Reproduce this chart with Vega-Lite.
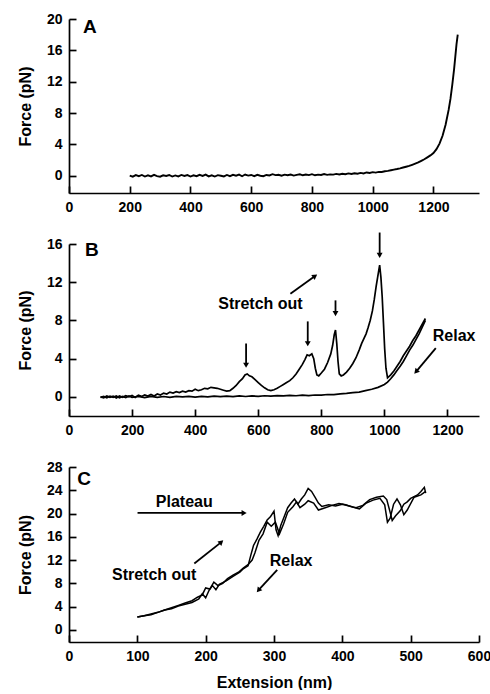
{
  "$schema": "https://vega.github.io/schema/vega-lite/v6.json",
  "background": "white",
  "padding": {"left": 17, "top": 12, "right": 0, "bottom": 0},
  "bounds": "flush",
  "spacing": 51,
  "datasets": {
    "a": [
      {"x":200,"y":0.02},{"x":210,"y":-0.12},{"x":220,"y":0.08},{"x":230,"y":-0.05},{"x":240,"y":0.1},{"x":250,"y":-0.1},{"x":260,"y":0.05},{"x":270,"y":-0.08},{"x":280,"y":0.12},{"x":290,"y":-0.04},
      {"x":300,"y":-0.12},{"x":310,"y":0.06},{"x":320,"y":-0.02},{"x":330,"y":0.1},{"x":340,"y":-0.1},{"x":350,"y":0.04},{"x":360,"y":-0.08},{"x":370,"y":0.1},{"x":380,"y":-0.03},{"x":390,"y":0.08},
      {"x":400,"y":-0.1},{"x":410,"y":0.05},{"x":420,"y":-0.06},{"x":430,"y":0.12},{"x":440,"y":-0.02},{"x":450,"y":0.15},{"x":460,"y":-0.08},{"x":470,"y":0.06},{"x":480,"y":-0.1},{"x":490,"y":0.08},
      {"x":500,"y":0.0},{"x":510,"y":-0.08},{"x":520,"y":0.1},{"x":530,"y":-0.05},{"x":540,"y":0.12},{"x":550,"y":0.0},{"x":560,"y":0.14},{"x":570,"y":-0.06},{"x":580,"y":0.16},{"x":590,"y":0.02},
      {"x":600,"y":0.1},{"x":610,"y":-0.05},{"x":620,"y":0.12},{"x":630,"y":0.0},{"x":640,"y":-0.06},{"x":650,"y":0.1},{"x":660,"y":0.04},{"x":670,"y":0.2},{"x":680,"y":0.08},{"x":690,"y":0.12},
      {"x":700,"y":0.0},{"x":710,"y":0.14},{"x":720,"y":0.06},{"x":730,"y":0.16},{"x":740,"y":0.02},{"x":750,"y":0.12},{"x":760,"y":0.18},{"x":770,"y":0.06},{"x":780,"y":0.15},{"x":790,"y":0.08},
      {"x":800,"y":0.2},{"x":810,"y":0.06},{"x":820,"y":0.14},{"x":830,"y":0.1},{"x":840,"y":0.22},{"x":850,"y":0.12},{"x":860,"y":0.18},{"x":870,"y":0.14},{"x":880,"y":0.24},{"x":890,"y":0.16},
      {"x":900,"y":0.26},{"x":910,"y":0.2},{"x":920,"y":0.3},{"x":930,"y":0.22},{"x":940,"y":0.32},{"x":950,"y":0.26},{"x":960,"y":0.36},{"x":970,"y":0.3},{"x":980,"y":0.42},{"x":990,"y":0.36},
      {"x":1000,"y":0.46},{"x":1010,"y":0.4},{"x":1020,"y":0.5},{"x":1030,"y":0.48},{"x":1040,"y":0.58},{"x":1050,"y":0.62},{"x":1060,"y":0.7},{"x":1070,"y":0.78},{"x":1080,"y":0.86},{"x":1090,"y":0.95},
      {"x":1100,"y":1.05},{"x":1110,"y":1.15},{"x":1120,"y":1.25},{"x":1130,"y":1.4},{"x":1140,"y":1.55},{"x":1150,"y":1.7},{"x":1160,"y":1.9},{"x":1170,"y":2.1},{"x":1180,"y":2.35},{"x":1190,"y":2.6},
      {"x":1200,"y":2.9},{"x":1210,"y":3.4},{"x":1220,"y":4.1},{"x":1230,"y":5.1},{"x":1240,"y":6.5},{"x":1250,"y":8.4},{"x":1256,"y":9.8},{"x":1262,"y":11.6},{"x":1268,"y":13.6},{"x":1272,"y":15.2},{"x":1276,"y":16.8},{"x":1280,"y":18.0}
    ],
    "b": [
      {"s":"stretch","x":100,"y":0.0},{"s":"stretch","x":110,"y":-0.1},{"s":"stretch","x":120,"y":0.1},{"s":"stretch","x":130,"y":-0.05},{"s":"stretch","x":140,"y":0.08},{"s":"stretch","x":150,"y":-0.12},{"s":"stretch","x":160,"y":0.1},{"s":"stretch","x":170,"y":-0.05},{"s":"stretch","x":180,"y":0.12},{"s":"stretch","x":190,"y":0.0},
      {"s":"stretch","x":200,"y":0.15},{"s":"stretch","x":210,"y":-0.05},{"s":"stretch","x":220,"y":0.18},{"s":"stretch","x":230,"y":0.05},{"s":"stretch","x":240,"y":0.2},{"s":"stretch","x":250,"y":0.08},{"s":"stretch","x":260,"y":0.25},{"s":"stretch","x":270,"y":0.1},{"s":"stretch","x":280,"y":0.3},{"s":"stretch","x":290,"y":0.2},
      {"s":"stretch","x":300,"y":0.4},{"s":"stretch","x":310,"y":0.3},{"s":"stretch","x":320,"y":0.5},{"s":"stretch","x":330,"y":0.4},{"s":"stretch","x":340,"y":0.55},{"s":"stretch","x":350,"y":0.45},{"s":"stretch","x":360,"y":0.6},{"s":"stretch","x":370,"y":0.5},{"s":"stretch","x":380,"y":0.65},{"s":"stretch","x":390,"y":0.6},
      {"s":"stretch","x":400,"y":0.8},{"s":"stretch","x":410,"y":0.65},{"s":"stretch","x":420,"y":0.75},{"s":"stretch","x":430,"y":0.9},{"s":"stretch","x":440,"y":0.85},{"s":"stretch","x":450,"y":1.0},{"s":"stretch","x":460,"y":0.95},{"s":"stretch","x":470,"y":0.9},{"s":"stretch","x":480,"y":0.8},{"s":"stretch","x":490,"y":0.7},
      {"s":"stretch","x":500,"y":0.6},{"s":"stretch","x":510,"y":0.65},{"s":"stretch","x":520,"y":0.9},{"s":"stretch","x":530,"y":1.2},{"s":"stretch","x":540,"y":1.6},{"s":"stretch","x":550,"y":1.9},{"s":"stretch","x":558,"y":2.3},{"s":"stretch","x":565,"y":2.4},{"s":"stretch","x":572,"y":2.2},{"s":"stretch","x":580,"y":2.1},
      {"s":"stretch","x":590,"y":1.8},{"s":"stretch","x":600,"y":1.5},{"s":"stretch","x":610,"y":1.2},{"s":"stretch","x":620,"y":0.95},{"s":"stretch","x":630,"y":0.75},{"s":"stretch","x":640,"y":0.65},{"s":"stretch","x":650,"y":0.75},{"s":"stretch","x":660,"y":0.9},{"s":"stretch","x":670,"y":1.1},{"s":"stretch","x":680,"y":1.3},
      {"s":"stretch","x":690,"y":1.5},{"s":"stretch","x":700,"y":1.7},{"s":"stretch","x":710,"y":2.0},{"s":"stretch","x":720,"y":2.4},{"s":"stretch","x":730,"y":2.9},{"s":"stretch","x":740,"y":3.4},{"s":"stretch","x":748,"y":3.9},{"s":"stretch","x":755,"y":4.4},{"s":"stretch","x":762,"y":4.3},{"s":"stretch","x":770,"y":4.5},
      {"s":"stretch","x":776,"y":4.0},{"s":"stretch","x":781,"y":3.0},{"s":"stretch","x":786,"y":2.3},{"s":"stretch","x":792,"y":2.2},{"s":"stretch","x":800,"y":2.5},{"s":"stretch","x":810,"y":2.9},{"s":"stretch","x":820,"y":3.6},{"s":"stretch","x":830,"y":4.5},{"s":"stretch","x":836,"y":5.4},{"s":"stretch","x":841,"y":6.5},
      {"s":"stretch","x":845,"y":7.0},{"s":"stretch","x":849,"y":5.6},{"s":"stretch","x":853,"y":3.7},{"s":"stretch","x":857,"y":2.4},{"s":"stretch","x":863,"y":2.2},{"s":"stretch","x":870,"y":2.3},{"s":"stretch","x":880,"y":2.6},{"s":"stretch","x":890,"y":3.0},{"s":"stretch","x":900,"y":3.5},{"s":"stretch","x":910,"y":4.1},
      {"s":"stretch","x":920,"y":4.9},{"s":"stretch","x":928,"y":5.6},{"s":"stretch","x":935,"y":6.1},{"s":"stretch","x":942,"y":6.6},{"s":"stretch","x":948,"y":7.2},{"s":"stretch","x":955,"y":8.0},{"s":"stretch","x":962,"y":9.0},{"s":"stretch","x":968,"y":10.2},{"s":"stretch","x":974,"y":11.6},{"s":"stretch","x":980,"y":12.8},
      {"s":"stretch","x":985,"y":13.8},{"s":"stretch","x":989,"y":12.5},{"s":"stretch","x":993,"y":10.5},{"s":"stretch","x":997,"y":7.8},{"s":"stretch","x":1001,"y":5.0},{"s":"stretch","x":1005,"y":3.0},{"s":"stretch","x":1010,"y":2.0},{"s":"stretch","x":1020,"y":2.3},{"s":"stretch","x":1030,"y":2.7},{"s":"stretch","x":1040,"y":3.2},
      {"s":"stretch","x":1050,"y":3.7},{"s":"stretch","x":1060,"y":4.3},{"s":"stretch","x":1070,"y":4.8},{"s":"stretch","x":1080,"y":5.3},{"s":"stretch","x":1090,"y":5.9},{"s":"stretch","x":1100,"y":6.4},{"s":"stretch","x":1110,"y":7.0},{"s":"stretch","x":1120,"y":7.6},{"s":"stretch","x":1130,"y":8.2},
      {"s":"relax","x":100,"y":-0.05},{"s":"relax","x":110,"y":0.05},{"s":"relax","x":120,"y":-0.1},{"s":"relax","x":130,"y":0.08},{"s":"relax","x":140,"y":-0.05},{"s":"relax","x":150,"y":0.1},{"s":"relax","x":160,"y":-0.1},{"s":"relax","x":170,"y":0.05},{"s":"relax","x":180,"y":-0.08},{"s":"relax","x":190,"y":0.1},
      {"s":"relax","x":200,"y":-0.05},{"s":"relax","x":220,"y":0.05},{"s":"relax","x":240,"y":-0.08},{"s":"relax","x":260,"y":0.06},{"s":"relax","x":280,"y":-0.05},{"s":"relax","x":300,"y":0.04},{"s":"relax","x":320,"y":-0.04},{"s":"relax","x":340,"y":0.05},{"s":"relax","x":360,"y":0.0},{"s":"relax","x":380,"y":0.06},
      {"s":"relax","x":400,"y":-0.02},{"s":"relax","x":420,"y":0.05},{"s":"relax","x":440,"y":0.0},{"s":"relax","x":460,"y":0.07},{"s":"relax","x":480,"y":0.02},{"s":"relax","x":500,"y":0.08},{"s":"relax","x":520,"y":0.03},{"s":"relax","x":540,"y":0.1},{"s":"relax","x":560,"y":0.04},{"s":"relax","x":580,"y":0.1},
      {"s":"relax","x":600,"y":0.06},{"s":"relax","x":620,"y":0.12},{"s":"relax","x":640,"y":0.08},{"s":"relax","x":660,"y":0.14},{"s":"relax","x":680,"y":0.1},{"s":"relax","x":700,"y":0.16},{"s":"relax","x":720,"y":0.12},{"s":"relax","x":740,"y":0.18},{"s":"relax","x":760,"y":0.14},{"s":"relax","x":780,"y":0.2},
      {"s":"relax","x":800,"y":0.18},{"s":"relax","x":820,"y":0.25},{"s":"relax","x":840,"y":0.24},{"s":"relax","x":860,"y":0.32},{"s":"relax","x":880,"y":0.36},{"s":"relax","x":900,"y":0.45},{"s":"relax","x":920,"y":0.5},{"s":"relax","x":940,"y":0.65},{"s":"relax","x":960,"y":0.8},{"s":"relax","x":980,"y":1.0},
      {"s":"relax","x":1000,"y":1.3},{"s":"relax","x":1010,"y":1.55},{"s":"relax","x":1020,"y":1.9},{"s":"relax","x":1030,"y":2.3},{"s":"relax","x":1040,"y":2.75},{"s":"relax","x":1050,"y":3.2},{"s":"relax","x":1060,"y":3.7},{"s":"relax","x":1070,"y":4.3},{"s":"relax","x":1080,"y":4.9},{"s":"relax","x":1090,"y":5.4},
      {"s":"relax","x":1100,"y":6.0},{"s":"relax","x":1110,"y":6.6},{"s":"relax","x":1120,"y":7.3},{"s":"relax","x":1130,"y":8.0}
    ],
    "c": [
      {"s":"stretch","x":100,"y":2.2},{"s":"stretch","x":110,"y":2.4},{"s":"stretch","x":120,"y":2.7},{"s":"stretch","x":130,"y":3.0},{"s":"stretch","x":140,"y":3.4},{"s":"stretch","x":150,"y":3.6},{"s":"stretch","x":160,"y":4.1},{"s":"stretch","x":170,"y":4.4},{"s":"stretch","x":180,"y":4.7},{"s":"stretch","x":190,"y":5.3},
      {"s":"stretch","x":195,"y":6.2},{"s":"stretch","x":200,"y":5.5},{"s":"stretch","x":205,"y":6.8},{"s":"stretch","x":210,"y":7.6},{"s":"stretch","x":215,"y":6.9},{"s":"stretch","x":220,"y":7.8},{"s":"stretch","x":230,"y":8.4},{"s":"stretch","x":240,"y":9.2},{"s":"stretch","x":250,"y":9.9},{"s":"stretch","x":255,"y":10.5},
      {"s":"stretch","x":262,"y":11.0},{"s":"stretch","x":266,"y":12.8},{"s":"stretch","x":270,"y":14.5},{"s":"stretch","x":275,"y":15.6},{"s":"stretch","x":280,"y":16.8},{"s":"stretch","x":285,"y":17.8},{"s":"stretch","x":290,"y":18.9},{"s":"stretch","x":295,"y":19.5},{"s":"stretch","x":300,"y":20.4},{"s":"stretch","x":303,"y":17.2},
      {"s":"stretch","x":306,"y":16.2},{"s":"stretch","x":310,"y":18.0},{"s":"stretch","x":315,"y":19.5},{"s":"stretch","x":320,"y":21.0},{"s":"stretch","x":325,"y":21.8},{"s":"stretch","x":330,"y":22.5},{"s":"stretch","x":335,"y":21.6},{"s":"stretch","x":340,"y":22.5},{"s":"stretch","x":345,"y":23.2},{"s":"stretch","x":350,"y":24.3},
      {"s":"stretch","x":355,"y":23.8},{"s":"stretch","x":360,"y":22.8},{"s":"stretch","x":365,"y":21.8},{"s":"stretch","x":370,"y":21.2},{"s":"stretch","x":380,"y":21.5},{"s":"stretch","x":390,"y":21.3},{"s":"stretch","x":400,"y":21.6},{"s":"stretch","x":410,"y":21.3},{"s":"stretch","x":420,"y":21.0},{"s":"stretch","x":430,"y":21.4},
      {"s":"stretch","x":440,"y":22.4},{"s":"stretch","x":450,"y":22.8},{"s":"stretch","x":460,"y":23.0},{"s":"stretch","x":465,"y":22.4},{"s":"stretch","x":470,"y":20.2},{"s":"stretch","x":473,"y":18.8},{"s":"stretch","x":478,"y":19.6},{"s":"stretch","x":485,"y":20.5},{"s":"stretch","x":490,"y":21.6},{"s":"stretch","x":495,"y":22.0},
      {"s":"stretch","x":500,"y":22.6},{"s":"stretch","x":510,"y":23.2},{"s":"stretch","x":515,"y":23.8},{"s":"stretch","x":520,"y":24.5},{"s":"stretch","x":522,"y":23.5},
      {"s":"relax","x":100,"y":2.2},{"s":"relax","x":110,"y":2.4},{"s":"relax","x":120,"y":2.6},{"s":"relax","x":130,"y":3.0},{"s":"relax","x":140,"y":3.4},{"s":"relax","x":150,"y":3.8},{"s":"relax","x":160,"y":4.2},{"s":"relax","x":170,"y":4.6},{"s":"relax","x":180,"y":5.0},{"s":"relax","x":188,"y":5.6},
      {"s":"relax","x":195,"y":6.0},{"s":"relax","x":200,"y":7.2},{"s":"relax","x":206,"y":7.0},{"s":"relax","x":212,"y":8.2},{"s":"relax","x":218,"y":7.6},{"s":"relax","x":225,"y":8.0},{"s":"relax","x":232,"y":8.8},{"s":"relax","x":240,"y":9.4},{"s":"relax","x":248,"y":9.9},{"s":"relax","x":255,"y":10.6},
      {"s":"relax","x":262,"y":11.2},{"s":"relax","x":268,"y":12.0},{"s":"relax","x":272,"y":13.2},{"s":"relax","x":278,"y":15.4},{"s":"relax","x":284,"y":16.5},{"s":"relax","x":290,"y":18.5},{"s":"relax","x":296,"y":17.8},{"s":"relax","x":302,"y":18.5},{"s":"relax","x":308,"y":16.5},{"s":"relax","x":314,"y":18.2},
      {"s":"relax","x":320,"y":20.2},{"s":"relax","x":328,"y":21.2},{"s":"relax","x":333,"y":22.0},{"s":"relax","x":338,"y":21.0},{"s":"relax","x":345,"y":21.6},{"s":"relax","x":350,"y":22.2},{"s":"relax","x":358,"y":21.8},{"s":"relax","x":365,"y":20.6},{"s":"relax","x":375,"y":21.0},{"s":"relax","x":385,"y":21.4},
      {"s":"relax","x":395,"y":21.7},{"s":"relax","x":405,"y":21.5},{"s":"relax","x":415,"y":21.1},{"s":"relax","x":425,"y":20.8},{"s":"relax","x":435,"y":21.8},{"s":"relax","x":445,"y":22.3},{"s":"relax","x":455,"y":22.6},{"s":"relax","x":462,"y":21.5},{"s":"relax","x":466,"y":18.5},{"s":"relax","x":470,"y":19.2},
      {"s":"relax","x":475,"y":21.6},{"s":"relax","x":480,"y":22.5},{"s":"relax","x":485,"y":21.5},{"s":"relax","x":490,"y":19.8},{"s":"relax","x":495,"y":20.6},{"s":"relax","x":505,"y":22.8},{"s":"relax","x":515,"y":23.2},{"s":"relax","x":522,"y":23.8}
    ],
    "arrowsB": [
      {"dir":"down","x":561.5,"y":3.4,"x2":561.5,"y2":5.6},
      {"dir":"down","x":757,"y":5.65,"x2":757,"y2":7.9},
      {"dir":"down","x":845,"y":8.8,"x2":845,"y2":10.1},
      {"dir":"down","x":985,"y":14.9,"x2":985,"y2":17.2},
      {"dir":"ne","x":778,"y":12.6,"x2":702,"y2":10.8},
      {"dir":"sw","x":1102,"y":2.7,"x2":1163,"y2":5.1}
    ],
    "arrowsC": [
      {"dir":"e","x":255,"y":20.1,"x2":100.3,"y2":20.1},
      {"dir":"ne","x":222,"y":15.0,"x2":183.4,"y2":11.4},
      {"dir":"sw","x":278,"y":6.9,"x2":304.7,"y2":10.3}
    ]
  },
  "vconcat": [
    {
      "width": 410,
      "height": 174,
      "encoding": {
        "x": {"field": "x", "type": "quantitative", "scale": {"domain": [0, 1350], "nice": false, "zero": false},
              "axis": {"values": [0, 200, 400, 600, 800, 1000, 1200], "format": "d", "title": null}},
        "y": {"field": "y", "type": "quantitative", "scale": {"domain": [-2.2, 20], "nice": false, "zero": false},
              "axis": {"values": [0, 4, 8, 12, 16, 20], "title": "Force (pN)"}}
      },
      "layer": [
        {"data": {"name": "a"}, "mark": {"type": "line", "color": "black", "strokeWidth": 1.9}},
        {"data": {"values": [{"x": 46, "y": 19.0, "t": "A"}]},
         "mark": {"type": "text", "align": "left", "baseline": "middle", "fontSize": 19, "fontWeight": "bold", "color": "black"},
         "encoding": {"text": {"field": "t"}}}
      ]
    },
    {
      "width": 410,
      "height": 172,
      "encoding": {
        "x": {"field": "x", "type": "quantitative", "scale": {"domain": [0, 1300], "nice": false, "zero": false},
              "axis": {"values": [0, 200, 400, 600, 800, 1000, 1200], "format": "d", "title": null}},
        "y": {"field": "y", "type": "quantitative", "scale": {"domain": [-2, 16], "nice": false, "zero": false},
              "axis": {"values": [0, 4, 8, 12, 16], "title": "Force (pN)"}}
      },
      "layer": [
        {"data": {"name": "b"}, "mark": {"type": "line", "color": "black", "strokeWidth": 1.7},
         "encoding": {"detail": {"field": "s"}}},
        {"data": {"name": "arrowsB"}, "mark": {"type": "rule", "color": "black", "strokeWidth": 1.8},
         "encoding": {"x2": {"field": "x2"}, "y2": {"field": "y2"}}},
        {"data": {"name": "arrowsB"}, "transform": [{"filter": "datum.dir == 'down'"}],
         "mark": {"type": "point", "shape": "triangle", "angle": 180, "filled": true, "color": "black", "size": 35, "opacity": 1}},
        {"data": {"name": "arrowsB"}, "transform": [{"filter": "datum.dir == 'ne'"}],
         "mark": {"type": "point", "shape": "triangle", "angle": 54, "filled": true, "color": "black", "size": 35, "opacity": 1}},
        {"data": {"name": "arrowsB"}, "transform": [{"filter": "datum.dir == 'sw'"}],
         "mark": {"type": "point", "shape": "triangle", "angle": 222, "filled": true, "color": "black", "size": 35, "opacity": 1}},
        {"data": {"values": [{"x": 51, "y": 15.4, "t": "B"}]},
         "mark": {"type": "text", "align": "left", "baseline": "middle", "fontSize": 19, "fontWeight": "bold", "color": "black"},
         "encoding": {"text": {"field": "t"}}},
        {"data": {"values": [{"x": 607, "y": 9.7, "t": "Stretch out"}, {"x": 1221, "y": 6.4, "t": "Relax"}]},
         "mark": {"type": "text", "align": "center", "baseline": "middle", "fontSize": 16, "fontWeight": "bold", "color": "black"},
         "encoding": {"text": {"field": "t"}}}
      ]
    },
    {
      "width": 410,
      "height": 175,
      "encoding": {
        "x": {"field": "x", "type": "quantitative", "scale": {"domain": [0, 600], "nice": false, "zero": false},
              "axis": {"values": [0, 100, 200, 300, 400, 500, 600], "format": "d", "title": "Extension (nm)"}},
        "y": {"field": "y", "type": "quantitative", "scale": {"domain": [-2.1, 28], "nice": false, "zero": false},
              "axis": {"values": [0, 4, 8, 12, 16, 20, 24, 28], "title": "Force (pN)"}}
      },
      "layer": [
        {"data": {"name": "c"}, "mark": {"type": "line", "color": "black", "strokeWidth": 1.5},
         "encoding": {"detail": {"field": "s"}}},
        {"data": {"name": "arrowsC"}, "mark": {"type": "rule", "color": "black", "strokeWidth": 1.8},
         "encoding": {"x2": {"field": "x2"}, "y2": {"field": "y2"}}},
        {"data": {"name": "arrowsC"}, "transform": [{"filter": "datum.dir == 'e'"}],
         "mark": {"type": "point", "shape": "triangle", "angle": 90, "filled": true, "color": "black", "size": 35, "opacity": 1}},
        {"data": {"name": "arrowsC"}, "transform": [{"filter": "datum.dir == 'ne'"}],
         "mark": {"type": "point", "shape": "triangle", "angle": 49, "filled": true, "color": "black", "size": 35, "opacity": 1}},
        {"data": {"name": "arrowsC"}, "transform": [{"filter": "datum.dir == 'sw'"}],
         "mark": {"type": "point", "shape": "triangle", "angle": 220, "filled": true, "color": "black", "size": 35, "opacity": 1}},
        {"data": {"values": [{"x": 12, "y": 25.9, "t": "C"}]},
         "mark": {"type": "text", "align": "left", "baseline": "middle", "fontSize": 19, "fontWeight": "bold", "color": "black"},
         "encoding": {"text": {"field": "t"}}},
        {"data": {"values": [{"x": 168.7, "y": 22.0, "t": "Plateau"}, {"x": 124.7, "y": 9.5, "t": "Stretch out"}, {"x": 325, "y": 11.8, "t": "Relax"}]},
         "mark": {"type": "text", "align": "center", "baseline": "middle", "fontSize": 16, "fontWeight": "bold", "color": "black"},
         "encoding": {"text": {"field": "t"}}}
      ]
    }
  ],
  "config": {
    "font": "Liberation Sans",
    "view": {"stroke": null},
    "axis": {
      "grid": false,
      "domainColor": "black", "domainWidth": 1.7,
      "tickColor": "black", "tickWidth": 1.7, "tickSize": -7,
      "labelFont": "Liberation Sans", "labelFontSize": 14, "labelFontWeight": "bold", "labelColor": "black",
      "labelPadding": 14, "labelFlush": false, "labelOverlap": false,
      "titleFont": "Liberation Sans", "titleFontSize": 16, "titleFontWeight": "bold", "titleColor": "black"
    },
    "axisY": {"titlePadding": 13},
    "axisX": {"titlePadding": 11}
  }
}
